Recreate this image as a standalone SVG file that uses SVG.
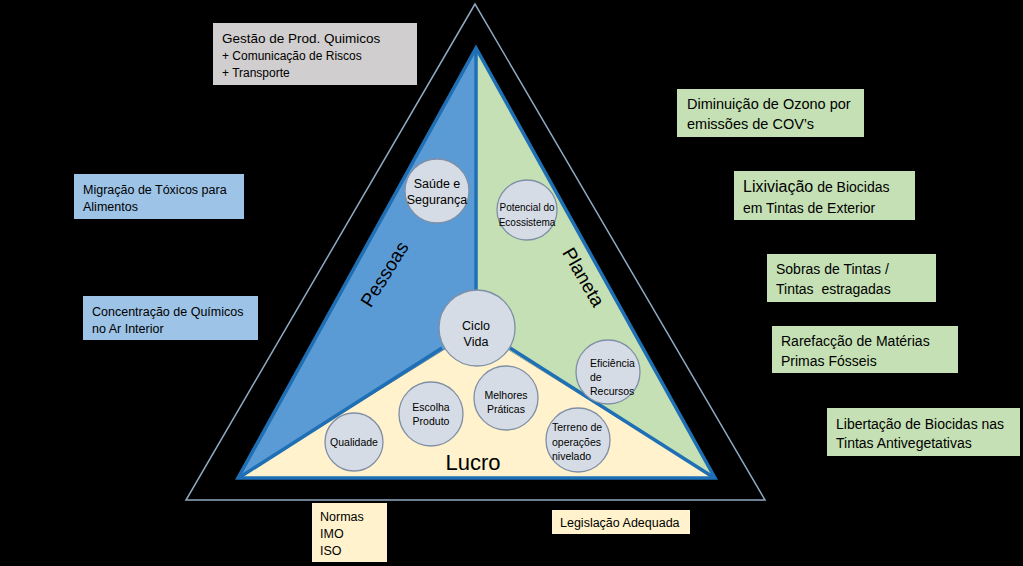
<svg xmlns="http://www.w3.org/2000/svg" width="1023" height="566" viewBox="0 0 1023 566">
<style>
text{font-family:"Liberation Sans",Arial,sans-serif;fill:#000}
.box text{font-size:13px}
.circ{fill:#d6dce5;stroke:#7f8fa6;stroke-width:1.3}
.ct{font-size:10.5px;text-anchor:middle}
.ctl{font-size:10.5px}
</style>
<rect width="1023" height="566" fill="#000"/>
<g id="outer-triangle">
<polygon points="475,4 186,500 765,500" fill="#000" stroke="#8ea9c1" stroke-width="1.5"/>
</g>
<g id="inner-triangle">
<polygon points="476,48 238,478 476,330" fill="#5b9bd5"/>
<polygon points="476,48 715,478 476,330" fill="#c5e0b4"/>
<polygon points="238,478 715,478 476,330" fill="#fff2cc"/>
</g>
<g id="connectors" stroke="#1f6fb5" stroke-width="3.5" fill="none" stroke-linejoin="miter">
<line x1="476" y1="50" x2="476" y2="300"/>
<line x1="442" y1="348" x2="240" y2="477"/>
<line x1="510" y1="348" x2="713" y2="477"/>
<polygon points="476,48 238,478 715,478"/>
</g>
<g id="labels">
<text x="384" y="281" font-size="19" text-anchor="middle" transform="rotate(-58 384 274)">Pessoas</text>
<text x="584" y="284" font-size="19" text-anchor="middle" transform="rotate(60 584 277)">Planeta</text>
<text x="473" y="470" font-size="22" text-anchor="middle">Lucro</text>
</g>
<g id="saude"><circle class="circ" cx="437" cy="191" r="32"/><text class="ct" x="437" y="188" style="font-size:12.5px">Saúde e</text><text class="ct" x="437" y="204" style="font-size:12.5px">Segurança</text></g>
<g id="potencial"><circle class="circ" cx="527" cy="210" r="30"/><text class="ct" x="527" y="211" style="font-size:10px">Potencial do</text><text class="ct" x="527" y="226" style="font-size:10px">Ecossistema</text></g>
<g id="ciclo"><circle class="circ" cx="477" cy="328" r="38"/><text class="ct" x="476" y="330" style="font-size:12.5px">Ciclo</text><text class="ct" x="476" y="346" style="font-size:12.5px">Vida</text></g>
<g id="eficiencia"><circle class="circ" cx="608" cy="372" r="32"/><text class="ctl" x="590" y="367">Eficiência</text><text class="ctl" x="590" y="381">de</text><text class="ctl" x="590" y="395">Recursos</text></g>
<g id="melhores"><circle class="circ" cx="506" cy="398" r="32"/><text class="ct" x="506" y="399">Melhores</text><text class="ct" x="506" y="413">Práticas</text></g>
<g id="escolha"><circle class="circ" cx="431" cy="414" r="32"/><text class="ct" x="431" y="411">Escolha</text><text class="ct" x="431" y="425">Produto</text></g>
<g id="qualidade"><circle class="circ" cx="354" cy="442" r="29"/><text class="ct" x="354" y="446">Qualidade</text></g>
<g id="terreno"><circle class="circ" cx="578" cy="440" r="32"/><text class="ctl" x="552" y="431">Terreno de</text><text class="ctl" x="552" y="446">operações</text><text class="ctl" x="552" y="460">nivelado</text></g>
<g id="gestao" class="box"><rect x="213" y="23" width="204" height="62" fill="#d0cece"/><text x="222" y="43" style="font-size:13.5px">Gestão de Prod. Quimicos</text><text x="222" y="60" style="font-size:12px">+ Comunicação de Riscos</text><text x="222" y="77" style="font-size:12px">+ Transporte</text></g>
<g id="migracao" class="box"><rect x="74" y="174" width="170" height="45" fill="#9dc3e6"/><text x="83" y="194" style="font-size:12.5px">Migração de Tóxicos para</text><text x="83" y="211" style="font-size:12.5px">Alimentos</text></g>
<g id="concentracao" class="box"><rect x="83" y="296" width="175" height="44" fill="#9dc3e6"/><text x="92" y="316" style="font-size:12.5px">Concentração de Químicos</text><text x="92" y="333" style="font-size:12.5px">no Ar Interior</text></g>
<g id="diminuicao" class="box"><rect x="677" y="89" width="187" height="48" fill="#c5e0b4"/><text x="687" y="109" style="font-size:14.5px">Diminuição de Ozono por</text><text x="687" y="129" style="font-size:14.5px">emissões de COV’s</text></g>
<g id="lixiviacao" class="box"><rect x="734" y="171" width="181" height="49" fill="#c5e0b4"/><text x="743" y="192" style="font-size:14px"><tspan style="font-size:16px">Lixiviação</tspan> de Biocidas</text><text x="743" y="213" style="font-size:14px">em Tintas de Exterior</text></g>
<g id="sobras" class="box"><rect x="767" y="254" width="169" height="48" fill="#c5e0b4"/><text x="776" y="274" style="font-size:14px">Sobras de Tintas /</text><text x="776" y="294" style="font-size:14px" xml:space="preserve">Tintas  estragadas</text></g>
<g id="rarefaccao" class="box"><rect x="772" y="326" width="186" height="47" fill="#c5e0b4"/><text x="781" y="346" style="font-size:14px">Rarefacção de Matérias</text><text x="781" y="366" style="font-size:14px">Primas Fósseis</text></g>
<g id="libertacao" class="box"><rect x="827" y="408" width="193" height="48" fill="#c5e0b4"/><text x="836" y="429" style="font-size:14px">Libertação de Biocidas nas</text><text x="836" y="448" style="font-size:14px">Tintas Antivegetativas</text></g>
<g id="normas" class="box"><rect x="312" y="503" width="75" height="59" fill="#fff2cc"/><text x="320" y="521" style="font-size:12.5px">Normas</text><text x="320" y="538" style="font-size:12.5px">IMO</text><text x="320" y="555" style="font-size:12.5px">ISO</text></g>
<g id="legislacao" class="box"><rect x="552" y="510" width="138" height="24" fill="#fff2cc"/><text x="560" y="527" style="font-size:12.5px">Legislação Adequada</text></g>
</svg>
